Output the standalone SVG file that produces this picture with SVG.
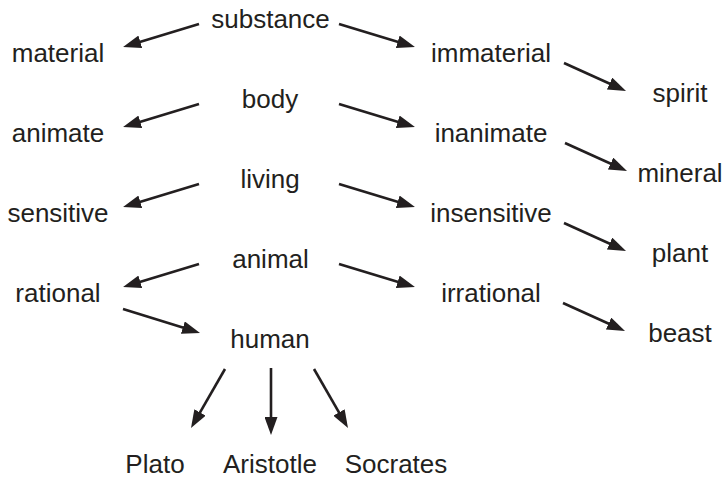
<svg xmlns="http://www.w3.org/2000/svg" width="725" height="479" viewBox="0 0 725 479">
<style>
text{font-family:"Liberation Sans",Arial,sans-serif;font-size:26px;fill:#231f20;text-anchor:middle}
.c line{stroke:#231f20;stroke-width:2.6;marker-end:url(#ah)}
</style>
<defs>
<marker id="ah" markerUnits="userSpaceOnUse" viewBox="0 0 18 13" refX="10" refY="6.5" markerWidth="18" markerHeight="13" orient="auto">
<path d="M0,0 L18,6.5 L0,13 z" fill="#231f20"/>
</marker>
</defs>
<rect width="725" height="479" fill="#fff"/>
<g id="n-substance"><text x="270.5" y="28">substance</text></g>
<g id="n-material"><text x="58" y="62">material</text></g>
<g id="n-immaterial"><text x="491" y="62">immaterial</text></g>
<g id="n-spirit"><text x="680" y="102">spirit</text></g>
<g id="n-body"><text x="270" y="108">body</text></g>
<g id="n-animate"><text x="58" y="142">animate</text></g>
<g id="n-inanimate"><text x="491" y="142">inanimate</text></g>
<g id="n-mineral"><text x="680" y="182">mineral</text></g>
<g id="n-living"><text x="270" y="188">living</text></g>
<g id="n-sensitive"><text x="58" y="222">sensitive</text></g>
<g id="n-insensitive"><text x="491" y="222">insensitive</text></g>
<g id="n-plant"><text x="680" y="262">plant</text></g>
<g id="n-animal"><text x="270.5" y="268">animal</text></g>
<g id="n-rational"><text x="58" y="302">rational</text></g>
<g id="n-irrational"><text x="491" y="302">irrational</text></g>
<g id="n-beast"><text x="680" y="342">beast</text></g>
<g id="n-human"><text x="270" y="348">human</text></g>
<g id="n-plato"><text x="155" y="473">Plato</text></g>
<g id="n-aristotle"><text x="270" y="473">Aristotle</text></g>
<g id="n-socrates"><text x="396" y="473">Socrates</text></g>
<g id="connectors" class="c">
<line x1="199" y1="24" x2="130.7" y2="44.7"/>
<line x1="199" y1="104" x2="130.7" y2="124.7"/>
<line x1="199" y1="184" x2="130.7" y2="204.7"/>
<line x1="199" y1="264" x2="130.7" y2="284.7"/>
<line x1="339" y1="24" x2="407.3" y2="44.7"/>
<line x1="339" y1="104" x2="407.3" y2="124.7"/>
<line x1="339" y1="184" x2="407.3" y2="204.7"/>
<line x1="339" y1="264" x2="407.3" y2="284.7"/>
<line x1="564" y1="63" x2="618.7" y2="87.7"/>
<line x1="565" y1="143" x2="619.7" y2="167.7"/>
<line x1="564" y1="223" x2="618.7" y2="247.7"/>
<line x1="563" y1="303" x2="617.7" y2="327.7"/>
<line x1="123" y1="309" x2="192.4" y2="330.6"/>
<line x1="225" y1="369" x2="195" y2="421.1"/>
<line x1="271" y1="368" x2="271" y2="427"/>
<line x1="314" y1="369" x2="344" y2="421.1"/>
</g>
</svg>
